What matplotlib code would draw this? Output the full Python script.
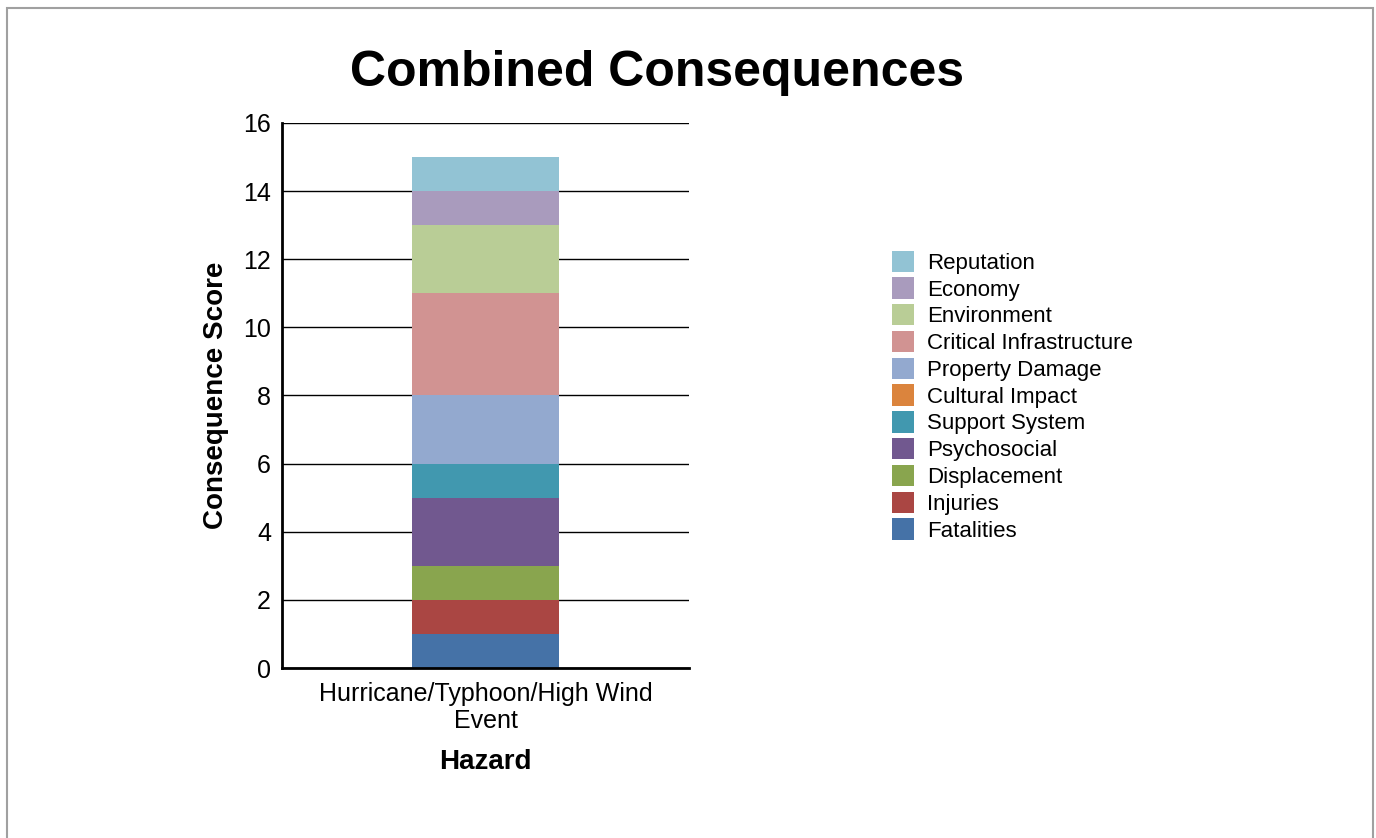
import matplotlib.pyplot as plt
from matplotlib.patches import Rectangle

plt.rcParams['font.family'] = ['Liberation Sans', 'DejaVu Sans']

hazard = ['Hurricane/Typhoon/High Wind\nEvent']
categories = ['Fatalities', 'Injuries', 'Displacement', 'Psychosocial', 'Support System',
              'Cultural Impact', 'Property Damage', 'Critical Infrastructure',
              'Environment', 'Economy', 'Reputation']
scores = [1, 1, 1, 2, 1, 0, 2, 3, 2, 1, 1]
colors = ['#4572a7', '#aa4643', '#89a54e', '#71588f', '#4198af', '#db843d',
          '#93a9cf', '#d19392', '#b9cd96', '#a99bbd', '#92c3d4']

fig = plt.figure(figsize=(13.76, 8.38), dpi=100)
fig.patches.append(Rectangle((7 / 1376, -0.1), 1366 / 1376, 1 - 8 / 838 + 0.1,
                             transform=fig.transFigure, fill=False,
                             edgecolor='#a0a0a0', linewidth=1.5))
ax = fig.add_axes([282 / 1376, 1 - 668 / 838, 407 / 1376, 545 / 838])

bottom = 0
for cat, val, col in zip(categories, scores, colors):
    ax.bar(0, val, width=0.36, bottom=bottom, color=col, label=cat, zorder=3)
    bottom += val

ax.set_xlim(-0.5, 0.5)
ax.set_ylim(0, 16)
ax.set_yticks(range(0, 17, 2))
ax.yaxis.grid(True, color='black', linewidth=1)
ax.set_axisbelow(True)
ax.tick_params(axis='y', length=0, labelsize=18, pad=8)
ax.tick_params(axis='x', length=0, labelsize=18, pad=10)
ax.set_xticks([0])
ax.set_xticklabels(hazard, linespacing=1.15)
for s in ['top', 'right']:
    ax.spines[s].set_visible(False)
for s in ['left', 'bottom']:
    ax.spines[s].set_linewidth(2)
    ax.spines[s].set_zorder(4)

ax.set_ylabel('Consequence Score', fontsize=20, fontweight='bold', labelpad=10)
ax.set_xlabel('Hazard', fontsize=20, fontweight='bold', labelpad=12)

fig.text(657 / 1376, 1 - 73 / 838, 'Combined Consequences', fontsize=36,
         fontweight='bold', ha='center', va='center')

handles, labels = ax.get_legend_handles_labels()
fig.legend(handles[::-1], labels[::-1], loc='upper left',
           bbox_to_anchor=(876 / 1376, 1 - 235 / 838), frameon=False,
           fontsize=16, handlelength=1.0, handleheight=1.1, handletextpad=0.6,
           labelspacing=0.16, borderpad=0.2)

fig.savefig('out.png', dpi=100, facecolor='white')
